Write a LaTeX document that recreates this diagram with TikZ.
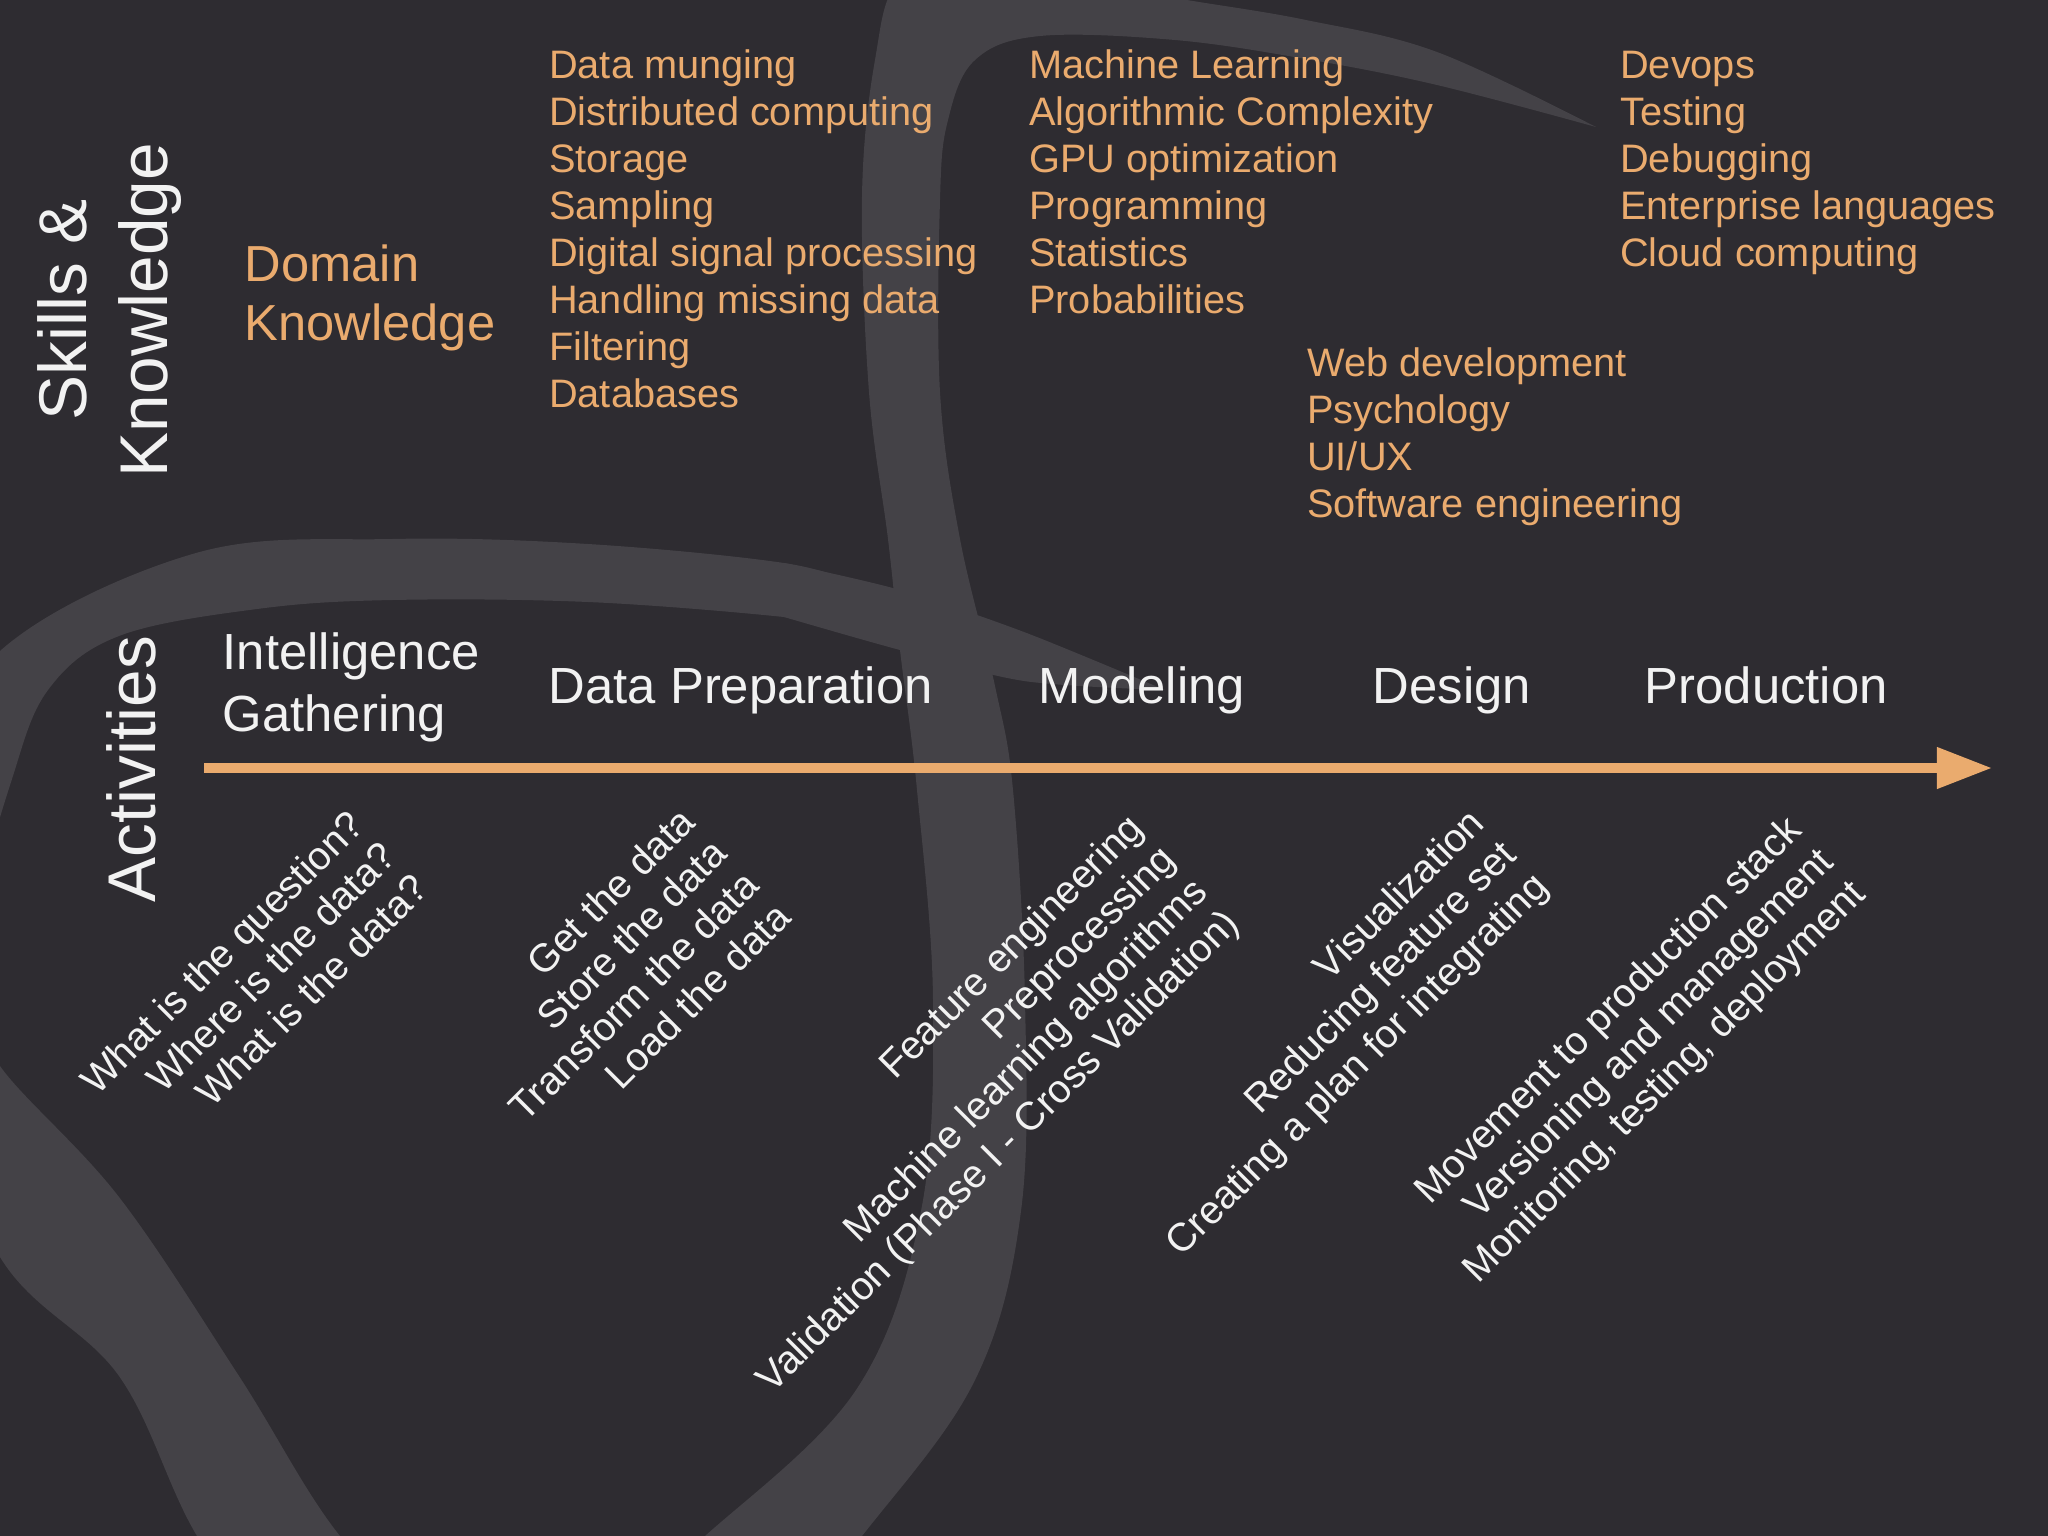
\documentclass[tikz,border=0pt]{standalone}
\usepackage{fontspec}
\setmainfont{Liberation Sans}
\usetikzlibrary{arrows.meta}
\definecolor{bg}{RGB}{46,44,49}
\definecolor{ribbon}{RGB}{68,66,71}
\definecolor{accent}{RGB}{234,171,110}
\definecolor{txt}{RGB}{242,242,242}
\begin{document}
\begin{tikzpicture}[x=0.01cm,y=-0.01cm,
  skilltext/.style={text=accent, font=\fontsize{11.3}{13.5}\selectfont, inner sep=0pt, anchor=base west},
  domtext/.style={text=accent, font=\fontsize{14.4}{17}\selectfont, inner sep=0pt, anchor=base west},
  headtext/.style={text=txt, font=\fontsize{14.45}{17}\selectfont, inner sep=0pt, anchor=base west},
  vlabel/.style={text=txt, font=\fontsize{19.2}{23}\selectfont, inner sep=0pt, anchor=base, rotate=90},
  rotline/.style={text=txt, font=\fontsize{11.25}{13.4}\selectfont, inner sep=0pt, anchor=base east, rotate=45},
  timeline/.style={draw=accent, line width=2.6pt, -{Triangle[length=0.55cm,width=0.394cm]}}
]
\useasboundingbox (0,0) rectangle (2048,1536);
\fill[bg] (0,0) rectangle (2048,1536);
\begin{scope}
\clip (0,0) rectangle (2048,1536);
\fill[ribbon] plot[smooth, tension=0.6] coordinates {(1596,127) (1437,85) (1306,59) (1175,40) (1040,36) (975,60) (948,120) (940,200) (940,392) (960,539) (995,686) (1013,790) (1025,1000) (1021,1211) (975,1380) (862,1536) (740,1680) (500,1760) (300,1680) (197,1536) (119,1376) (0,1257) (-80,1050) (-80,800) (0,651) (196,553) (392,539) (588,544) (784,563) (860,585)}
  -- plot[smooth, tension=0.6] coordinates {(860,630) (784,617) (588,602) (392,600) (257,609) (119,636) (48,690) (12,779) (-20,900) (-20,1000) (0,1066) (119,1197) (239,1376) (340,1536) (450,1640) (600,1620) (705,1536) (856,1390) (921,1211) (933,1000) (917,790) (900,650) (888,539) (869,392) (862,196) (875,60) (900,-20) (980,-45) (1100,-15) (1187,0) (1306,20) (1437,52) (1596,127)} -- cycle;
\fill[ribbon] plot[smooth] coordinates {(784,563) (900,590) (1024,632) (1165,690)}
  -- plot[smooth] coordinates {(1165,690) (1024,681) (900,650) (784,617)} -- cycle;
\end{scope}

% vertical labels
\node[vlabel] (sk1) at (87,310) {Skills \&};
\node[vlabel] (sk2) at (167,310) {Knowledge};
\node[vlabel] (act) at (155,769) {Activities};

% domain knowledge
\node[domtext] (dk1) at (244,281.6) {Domain};
\node[domtext] (dk2) at (244,340) {Knowledge};

% skill columns
\foreach \t [count=\i from 0] in {Data munging, Distributed computing, Storage, Sampling, Digital signal processing, Handling missing data, Filtering, Databases}
  \node[skilltext] (ca\i) at (548.5,78.4+47*\i) {\t};
\foreach \t [count=\i from 0] in {Machine Learning, Algorithmic Complexity, GPU optimization, Programming, Statistics, Probabilities}
  \node[skilltext] (cb\i) at (1028.5,78.4+47*\i) {\t};
\foreach \t [count=\i from 0] in {Devops, Testing, Debugging, Enterprise languages, Cloud computing}
  \node[skilltext] (cc\i) at (1619.5,78.4+47*\i) {\t};
\foreach \t [count=\i from 0] in {Web development, Psychology, UI/UX, Software engineering}
  \node[skilltext] (cd\i) at (1306.5,376+47*\i) {\t};

% headers
\node[headtext] (h1a) at (222,669.7) {Intelligence};
\node[headtext] (h1b) at (222,731) {Gathering};
\node[headtext] (h2) at (548,703) {Data Preparation};
\node[headtext] (h3) at (1038,703) {Modeling};
\node[headtext] (h4) at (1372,703) {Design};
\node[headtext] (h5) at (1644,703) {Production};

% timeline arrow
\coordinate (tl0) at (204,768);
\coordinate (tl1) at (1992,768);
\draw[timeline] (tl0) -- (tl1);

% rotated activity lists
\foreach \t [count=\i from 0] in {What is the question?, Where is the data?, What is the data?}
  \node[rotline] (ra\i) at (367+31.82*\i,827+31.82*\i) {\t};
\foreach \t [count=\i from 0] in {Get the data, Store the data, Transform the data, Load the data}
  \node[rotline] (rb\i) at (698+31.82*\i,824+31.82*\i) {\t};
\foreach \t [count=\i from 0] in {Feature engineering, Preprocessing, Machine learning algorithms, Validation (Phase I - Cross Validation)}
  \node[rotline] (rc\i) at (1146+31.82*\i,830+31.82*\i) {\t};
\foreach \t [count=\i from 0] in {Visualization, Reducing feature set, Creating a plan for integrating}
  \node[rotline] (rd\i) at (1487+31.82*\i,825+31.82*\i) {\t};
\foreach \t [count=\i from 0] in {Movement to production stack, Versioning and management, {Monitoring, testing, deployment}}
  \node[rotline] (re\i) at (1804+31.82*\i,832+31.82*\i) {\t};
\end{tikzpicture}
\end{document}
